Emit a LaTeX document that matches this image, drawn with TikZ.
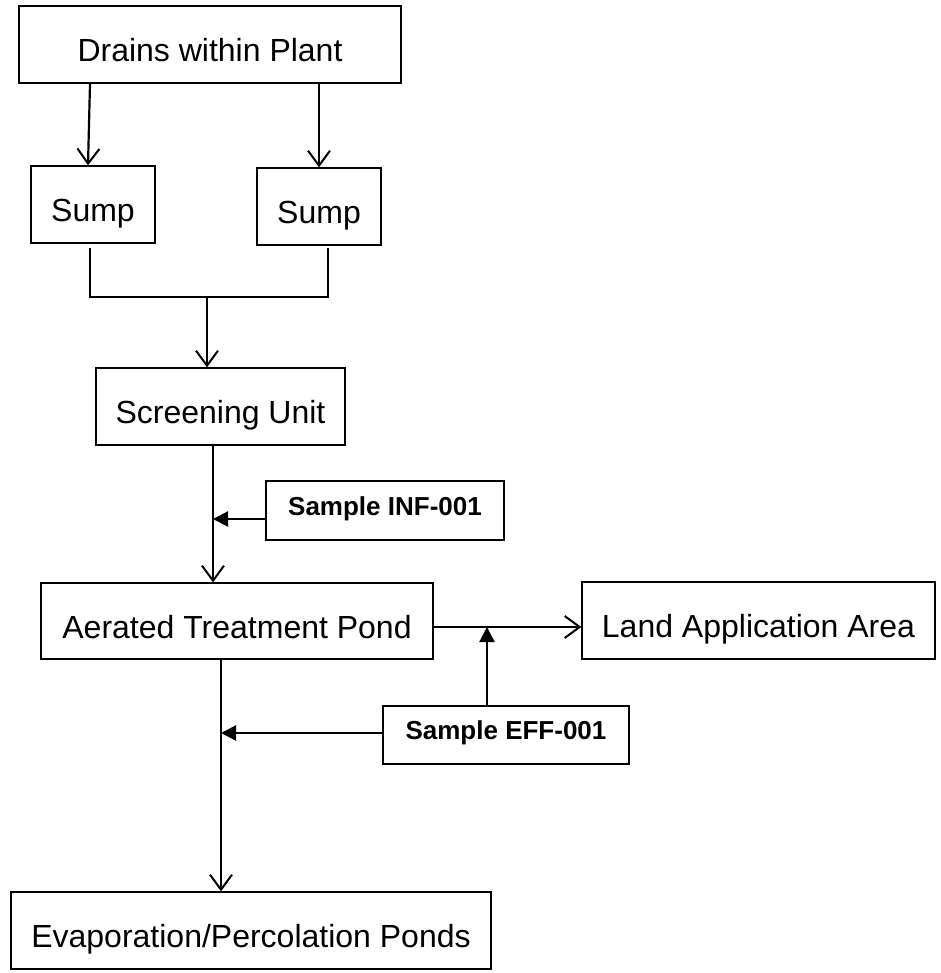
\documentclass[tikz,border=0pt]{standalone}
\usepackage{fontspec}
\setmainfont{Liberation Sans}
\usepackage{xcolor}
\usepackage{tikz}
\usetikzlibrary{arrows.meta, positioning, calc}

\begin{document}
\begin{tikzpicture}[
          x=1pt, y=-1pt,
          box/.style={draw=black, line width=1.3pt, fill=white, inner sep=0pt, text height=34pt, text depth=0pt, font=\fontsize{32}{36}\selectfont},
          sample/.style={draw=black, line width=1.3pt, fill=white, inner sep=0pt, text height=9pt, text depth=0pt, font=\fontsize{26}{30}\selectfont\bfseries},
          pipe/.style={line width=2.2pt, black},
          flow/.style={pipe, -{Straight Barb[length=15pt, width=22pt, line width=2pt]}},
          tap/.style={pipe, -{Triangle[length=15pt, width=15pt]}}
        ]
          \useasboundingbox (0,0) rectangle (940,973);

          % Plant drains and sumps
          \node[box, minimum width=382pt, minimum height=77pt] (drains) at (210, 44.5) {Drains within Plant};
          \node[box, minimum width=124pt, minimum height=77pt] (sumpL) at (93, 204.5) {Sump};
          \node[box, minimum width=124pt, minimum height=77pt] (sumpR) at (319, 206.5) {Sump};
          \node[box, minimum width=249pt, minimum height=77pt] (screen) at (220.5, 406.5) {Screening Unit};
          \node[sample, minimum width=238pt, minimum height=59pt] (inf) at (385, 510.5) {Sample INF-001};

          % Treatment and discharge
          \node[box, minimum width=392pt, minimum height=76pt] (aerated) at (237, 621) {Aerated Treatment Pond};
          \node[box, minimum width=353pt, minimum height=77pt] (land) at (758.5, 620.5) {Land Application Area};
          \node[sample, minimum width=246pt, minimum height=58pt] (eff) at (506, 735) {Sample EFF-001};
          \node[box, minimum width=480pt, minimum height=77pt] (evap) at (251, 930.5) {Evaporation/Percolation Ponds};

          \coordinate (jL) at (90, 297);
          \coordinate (jR) at (328, 297);
          \coordinate (join) at (207, 297);
          \coordinate (tapA) at (213, 519);
          \coordinate (tapB) at (487, 627);
          \coordinate (tapC) at (221, 733);

          \draw[flow] (drains.south -| 90,0) -- (sumpL.north -| 88,0);
          \draw[flow] (drains.south -| sumpR.north) -- (sumpR.north);
          \draw[pipe, line width=2.6pt] ([yshift=-4pt]sumpL.south -| jL) -- (jL) -- (jR) -- ([yshift=-2pt]sumpR.south -| jR);
          \draw[flow] (join) -- (screen.north -| join);

          \draw[flow] (screen.south -| tapA) -- (aerated.north -| tapA);
          \draw[tap] (inf.west |- tapA) -- (tapA);

          \draw[flow] (aerated.east |- tapB) -- (land.west |- tapB);
          \draw[tap] (eff.north -| tapB) -- (tapB);

          \draw[flow] (aerated.south -| tapC) -- (evap.north -| tapC);
          \draw[tap] (eff.west |- tapC) -- (tapC);
        \end{tikzpicture}
\end{document}
